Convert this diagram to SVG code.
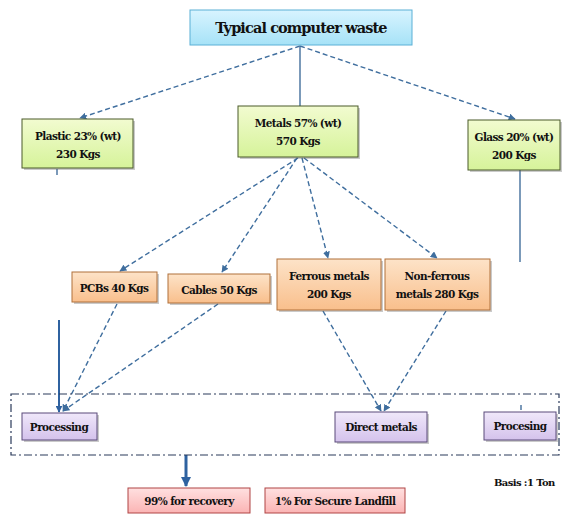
<svg xmlns="http://www.w3.org/2000/svg" width="563" height="515" viewBox="0 0 563 515">
<defs>
<linearGradient id="gBlue" x1="0" y1="0" x2="0" y2="1"><stop offset="0" stop-color="#d8f4ff"/><stop offset="1" stop-color="#a6e2f7"/></linearGradient>
<linearGradient id="gGreen" x1="0" y1="0" x2="0" y2="1"><stop offset="0" stop-color="#f2fbd0"/><stop offset="1" stop-color="#d6f39a"/></linearGradient>
<linearGradient id="gOrange" x1="0" y1="0" x2="0" y2="1"><stop offset="0" stop-color="#fde3c8"/><stop offset="1" stop-color="#f9bf8c"/></linearGradient>
<linearGradient id="gPurple" x1="0" y1="0" x2="0" y2="1"><stop offset="0" stop-color="#f0e8fa"/><stop offset="1" stop-color="#d4c2ec"/></linearGradient>
<linearGradient id="gPink" x1="0" y1="0" x2="0" y2="1"><stop offset="0" stop-color="#ffe0e0"/><stop offset="1" stop-color="#fbb4b4"/></linearGradient>
<marker id="ah" viewBox="0 0 10 10" refX="9" refY="5" markerWidth="5" markerHeight="5" orient="auto"><path d="M0,0 L10,5 L0,10 z" fill="#3f6e9e"/></marker>
<marker id="ahb" viewBox="0 0 10 10" refX="9" refY="5" markerWidth="3.5" markerHeight="3.5" orient="auto"><path d="M0,0 L10,5 L0,10 z" fill="#2f62a0"/></marker>
</defs>
<style>
text{font-family:"DejaVu Serif",serif;font-weight:bold;fill:#111;text-anchor:middle;letter-spacing:-0.6px}
.t1{font-size:14.5px;letter-spacing:-0.9px}
.t{font-size:10.5px}
.blue{fill:url(#gBlue);stroke:#5ab0d6;stroke-width:1}
.green{fill:url(#gGreen);stroke:#4a5a2a;stroke-width:1}
.orange{fill:url(#gOrange);stroke:#b0703a;stroke-width:1}
.purple{fill:url(#gPurple);stroke:#5a4a7a;stroke-width:1}
.pink{fill:url(#gPink);stroke:#b04444;stroke-width:1}
.shadow{fill:#666;opacity:0.35}
.dash{fill:none;stroke:#3f6e9e;stroke-width:1.4;stroke-dasharray:5,3}
.solid{fill:none;stroke:#5a80a8;stroke-width:1.6}
.frame{fill:none;stroke:#2a3a5a;stroke-width:1.2;stroke-dasharray:8,3,2,3}
</style>
<g id="connectors">
<line class="dash" x1="300" y1="46" x2="80" y2="118" marker-end="url(#ah)"/>
<line class="solid" x1="300" y1="46" x2="300" y2="106"/>
<line class="dash" x1="300" y1="46" x2="515" y2="119" marker-end="url(#ah)"/>
<line class="solid" x1="57" y1="169" x2="57" y2="175"/>
<line class="solid" x1="520" y1="170" x2="520" y2="262"/>
<line class="solid" x1="521" y1="405" x2="521" y2="410"/>
<line class="dash" x1="298" y1="158" x2="120" y2="271" marker-end="url(#ah)"/>
<line class="dash" x1="297" y1="158" x2="222" y2="272" marker-end="url(#ah)"/>
<line class="dash" x1="302" y1="158" x2="328" y2="258" marker-end="url(#ah)"/>
<line class="dash" x1="304" y1="158" x2="437" y2="258" marker-end="url(#ah)"/>
<line x1="59" y1="320" x2="59" y2="412" stroke="#2f62a0" stroke-width="2" marker-end="url(#ahb)"/>
<line class="dash" x1="117" y1="304" x2="63" y2="411" marker-end="url(#ah)"/>
<line class="dash" x1="218" y1="304" x2="63" y2="411" marker-end="url(#ah)"/>
<line class="dash" x1="323" y1="311" x2="381" y2="411" marker-end="url(#ah)"/>
<line class="dash" x1="446" y1="311" x2="384" y2="411" marker-end="url(#ah)"/>
<line x1="186" y1="455" x2="186" y2="486" stroke="#2f62a0" stroke-width="3" marker-end="url(#ahb)"/>
</g>
<g id="frame">
<rect class="frame" x="11" y="394" width="548" height="61"/>
</g>
<g id="top">
<rect class="blue" x="190" y="10" width="222" height="35"/>
<text class="t1" x="301" y="33">Typical computer waste</text>
</g>
<g id="plastic">
<rect class="shadow" x="24" y="121" width="111" height="49"/>
<rect class="green" x="22" y="119" width="111" height="49"/>
<text class="t" x="78" y="140">Plastic 23% (wt)</text>
<text class="t" x="78" y="158">230 Kgs</text>
</g>
<g id="metals">
<rect class="shadow" x="240" y="108" width="120" height="51"/>
<rect class="green" x="238" y="106" width="120" height="51"/>
<text class="t" x="298" y="127">Metals 57% (wt)</text>
<text class="t" x="298" y="145">570 Kgs</text>
</g>
<g id="glass">
<rect class="shadow" x="470" y="122" width="92" height="50"/>
<rect class="green" x="468" y="120" width="92" height="50"/>
<text class="t" x="514" y="141">Glass 20% (wt)</text>
<text class="t" x="514" y="159">200 Kgs</text>
</g>
<g id="pcbs">
<rect class="shadow" x="74" y="274" width="85" height="30"/>
<rect class="orange" x="72" y="272" width="85" height="30"/>
<text class="t" x="114" y="292">PCBs 40 Kgs</text>
</g>
<g id="cables">
<rect class="shadow" x="170" y="276" width="102" height="29"/>
<rect class="orange" x="168" y="274" width="102" height="29"/>
<text class="t" x="219" y="294">Cables 50 Kgs</text>
</g>
<g id="ferrous">
<rect class="shadow" x="279" y="261" width="104" height="51"/>
<rect class="orange" x="277" y="259" width="104" height="51"/>
<text class="t" x="329" y="280">Ferrous metals</text>
<text class="t" x="329" y="298">200 Kgs</text>
</g>
<g id="nonferrous">
<rect class="shadow" x="387" y="261" width="105" height="51"/>
<rect class="orange" x="385" y="259" width="105" height="51"/>
<text class="t" x="437" y="280">Non-ferrous</text>
<text class="t" x="437" y="298">metals 280 Kgs</text>
</g>
<g id="processing1">
<rect class="shadow" x="24" y="415" width="75" height="27"/>
<rect class="purple" x="22" y="413" width="75" height="27"/>
<text class="t" x="59" y="431">Processing</text>
</g>
<g id="direct">
<rect class="shadow" x="337" y="414" width="92" height="30"/>
<rect class="purple" x="335" y="412" width="92" height="30"/>
<text class="t" x="381" y="431">Direct metals</text>
</g>
<g id="processing2">
<rect class="shadow" x="486" y="414" width="72" height="28"/>
<rect class="purple" x="484" y="412" width="72" height="28"/>
<text class="t" x="520" y="430">Procesing</text>
</g>
<g id="recovery">
<rect class="pink" x="128" y="488" width="122" height="25"/>
<text class="t" x="189" y="505">99% for recovery</text>
</g>
<g id="landfill">
<rect class="pink" x="265" y="488" width="140" height="25"/>
<text class="t" x="335" y="505">1% For Secure Landfill</text>
</g>
<g id="basis">
<text class="t" x="494" y="486" style="text-anchor:start;font-size:10px">Basis :1 Ton</text>
</g>
</svg>
